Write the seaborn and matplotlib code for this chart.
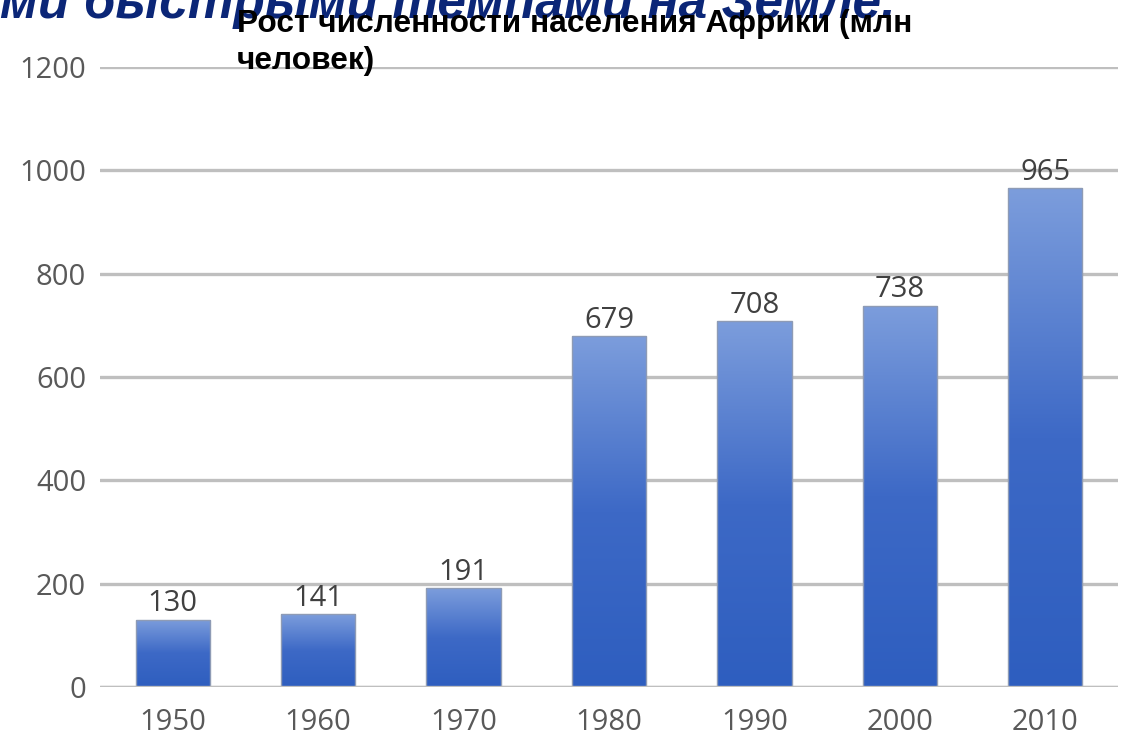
import numpy as np
import matplotlib
matplotlib.use("Agg")
import matplotlib.pyplot as plt
from matplotlib.colors import LinearSegmentedColormap
import seaborn as sns
import pandas as pd

years = ["1950", "1960", "1970", "1980", "1990", "2000", "2010"]
population = [130, 141, 191, 679, 708, 738, 965]
y_ticks = [0, 200, 400, 600, 800, 1000, 1200]
title_text = "Рост численности населения Африки (млн\nчеловек)"
background_text = "ми быстрыми темпами на Земле."

sns.set_theme(style="white")
plt.rcParams['font.family'] = ['Open Sans', 'DejaVu Sans']

W, H = 1140, 736
fig = plt.figure(figsize=(W / 100, H / 100), dpi=100)
ax = fig.add_axes([100 / W, 1 - 687 / H, (1118 - 100) / W, (687 - 67) / H])

df = pd.DataFrame({"year": years, "pop": population})
sns.barplot(data=df, x="year", y="pop", ax=ax, color="#4472C4", width=0.51,
            edgecolor="#8E9BB5", linewidth=1.0, zorder=3)

cmap = LinearSegmentedColormap.from_list("g", ["#2E5EBF", "#3D69C6", "#7C9DDC"])
grad = np.linspace(0, 1, 256).reshape(-1, 1)
for p in ax.patches:
    x0, y0 = p.get_x(), p.get_y()
    w, h = p.get_width(), p.get_height()
    p.set_facecolor("none")
    im = ax.imshow(grad, extent=[x0, x0 + w, y0, y0 + h], origin="lower",
                   aspect="auto", cmap=cmap, zorder=2.5, interpolation="bilinear")
    im.set_clip_path(p)

ax.set_xlim(-0.5, len(years) - 0.5)
ax.set_ylim(0, 1200)
ax.set_yticks(y_ticks)
ax.set_yticklabels([str(v) for v in y_ticks])
ax.yaxis.grid(True, color="#BFBFBF", linewidth=2.4, zorder=0)
ax.set_axisbelow(True)
for s in ax.spines.values():
    s.set_visible(False)
ax.axhline(0, color="#BFBFBF", linewidth=2.4, zorder=4)
ax.set_xlabel("")
ax.set_ylabel("")
ax.tick_params(axis="y", length=0, pad=10, labelsize=21, labelcolor="#595959")
ax.tick_params(axis="x", length=0, pad=15, labelsize=21, labelcolor="#595959")

for i, v in enumerate(population):
    ax.annotate(str(v), (i, v), xytext=(0, 1), textcoords="offset points",
                ha="center", va="bottom", fontsize=21, color="#404040", zorder=5)

fig.text(895 / W, 1 - 18 / H, background_text, ha="right", va="baseline",
         fontsize=37, fontweight="bold", fontstyle="italic", color="#0B2677",
         family=["Liberation Sans", "DejaVu Sans"], zorder=1)
fig.text(237 / W, 1 - 9 / H, title_text, ha="left", va="top",
         fontsize=22.8, fontweight="bold", color="black", linespacing=1.32,
         family=["Liberation Sans", "DejaVu Sans"], zorder=10)

fig.savefig("out.png", dpi=100)
